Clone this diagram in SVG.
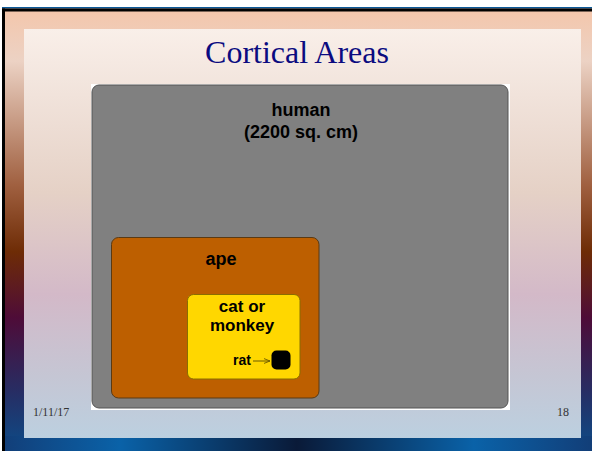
<svg xmlns="http://www.w3.org/2000/svg" width="592" height="451" viewBox="0 0 592 451">
  <defs>
    <linearGradient id="outerV" x1="0" y1="0" x2="0" y2="1">
      <stop offset="0" stop-color="#f4c6ab"/>
      <stop offset="0.12" stop-color="#ecd2c4"/>
      <stop offset="0.4" stop-color="#a06040"/>
      <stop offset="0.55" stop-color="#6e2c06"/>
      <stop offset="0.7" stop-color="#4e0c38"/>
      <stop offset="0.86" stop-color="#282c62"/>
      <stop offset="1" stop-color="#0c4c88"/>
    </linearGradient>
    <linearGradient id="bottomH" x1="0" y1="0" x2="1" y2="0">
      <stop offset="0" stop-color="#123e78"/>
      <stop offset="0.2" stop-color="#0a62a8"/>
      <stop offset="0.5" stop-color="#0a1a38"/>
      <stop offset="0.8" stop-color="#0a62a8"/>
      <stop offset="1" stop-color="#123e78"/>
    </linearGradient>
    <linearGradient id="inner" x1="0" y1="0" x2="0" y2="1">
      <stop offset="0" stop-color="#f9efe9"/>
      <stop offset="0.4" stop-color="#e5d1c6"/>
      <stop offset="0.65" stop-color="#d3b9c8"/>
      <stop offset="0.85" stop-color="#c5c6d4"/>
      <stop offset="1" stop-color="#bcd0e0"/>
    </linearGradient>
    <marker id="arr" viewBox="0 0 10 10" refX="10" refY="5" markerWidth="6" markerHeight="6" orient="auto" markerUnits="userSpaceOnUse">
      <path d="M0,1 L10,5 L0,9" fill="none" stroke="#6b5a00" stroke-width="1.5"/>
    </marker>
  </defs>
  <style>
    .lbl { font-family: "Liberation Sans", Arial, sans-serif; font-weight: bold; fill: #000; text-anchor: middle; }
    .foot { font-family: "Liberation Serif", "Times New Roman", serif; font-size: 12px; fill: #333; }
  </style>

  <!-- background -->
  <rect x="0" y="0" width="592" height="451" fill="#fff"/>
  <rect x="2" y="8" width="590" height="443" fill="url(#outerV)"/>
  <rect x="2" y="436" width="590" height="15" fill="url(#bottomH)"/>
  <rect x="2" y="7" width="590" height="1.5" fill="#0a5a9a"/>
  <rect x="2" y="8.5" width="590" height="3" fill="#000"/>
  <rect x="2" y="8.5" width="3" height="443" fill="#000"/>
  <rect x="24" y="29" width="557" height="409" fill="url(#inner)"/>

  <text x="297" y="63" font-family="Liberation Serif, Times New Roman, serif" font-size="32" fill="#0b0b80" text-anchor="middle">Cortical Areas</text>

  <g id="human">
    <rect x="91" y="84" width="419" height="326" fill="#fff"/>
    <rect x="92" y="85" width="416" height="323" rx="7" fill="#808080" stroke="#555" stroke-width="1"/>
    <text class="lbl" x="301" y="116" font-size="18">human</text>
    <text class="lbl" x="301" y="138" font-size="18">(2200 sq. cm)</text>
  </g>

  <g id="ape">
    <rect x="111.5" y="237.5" width="207.5" height="160.5" rx="7" fill="#bd5f00" stroke="#5a3a14" stroke-width="1"/>
    <text class="lbl" x="221" y="265" font-size="18">ape</text>
  </g>

  <g id="cat">
    <rect x="187.5" y="294.5" width="112.5" height="84.5" rx="6" fill="#ffd700" stroke="#8a6e00" stroke-width="1"/>
    <text class="lbl" x="242" y="312" font-size="17">cat or</text>
    <text class="lbl" x="242" y="331" font-size="17">monkey</text>
  </g>

  <g id="rat">
    <text class="lbl" x="242" y="365" font-size="14">rat</text>
    <rect x="271.5" y="350.5" width="19" height="19" rx="5" fill="#000"/>
  </g>

  <g id="connectors">
    <line x1="253" y1="361" x2="270" y2="361" stroke="#6b5a00" stroke-width="1" marker-end="url(#arr)"/>
  </g>

  <text class="foot" x="33" y="416">1/11/17</text>
  <text class="foot" x="557" y="416">18</text>
</svg>
